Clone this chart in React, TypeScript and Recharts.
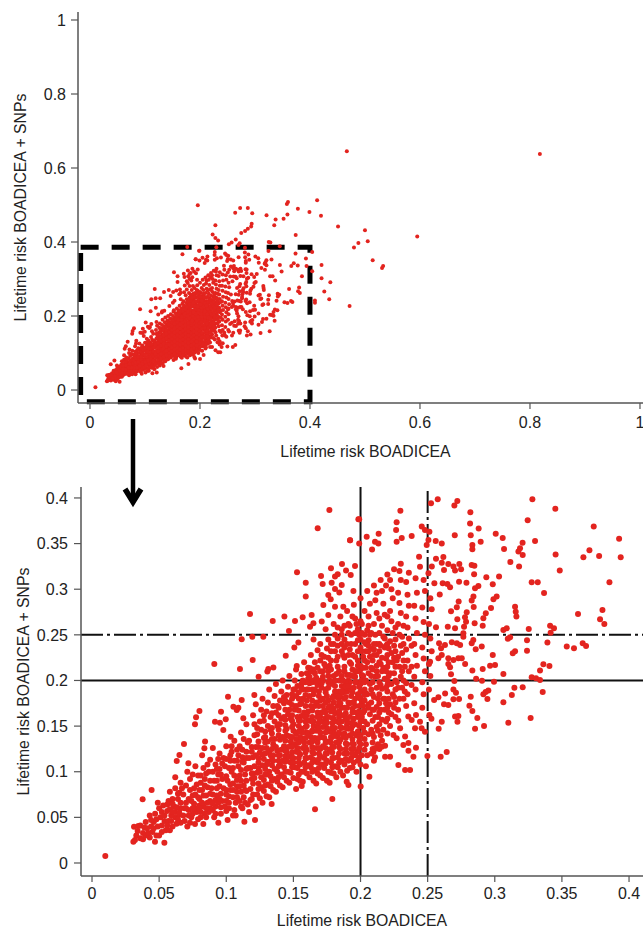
import { ScatterChart, Scatter, XAxis, YAxis, ReferenceLine, ReferenceArea } from 'recharts';

type Pt = [number, number];

// Values: [BOADICEA, BOADICEA + SNPs]
const farOutliers: Pt[] = [
  [.467,.645],[.818,.638],[.196,.499],[.36,.508],[.358,.503],[.413,.513],[.378,.49],[.264,.479],[.273,.492],[.287,.492],
  [.295,.478],[.399,.481],[.321,.472],[.3375,.461],[.352,.463],[.359,.474],[.42,.471],[.335,.445],[.294,.449],[.293,.442],
  [.287,.436],[.282,.43],[.228,.445],[.451,.442],[.5,.432],[.275,.424],[.265,.407],[.223,.42],[.228,.411],[.233,.404],
  [.374,.419],[.595,.415],[.505,.402],[.488,.397],[.48,.385],[.325,.4],[.404,.373],[.421,.338],[.514,.351],[.533,.335],
  [.531,.33],[.404,.321],[.421,.302],[.437,.291],[.426,.266],[.435,.245],[.409,.242],[.409,.236],[.472,.227],
];

const rightFringe: Pt[] = [
  [.2575,.3985],[.2525,.3941],[.2721,.3967],[.2699,.3916],[.328,.3985],[.3451,.3883],[.2818,.3843],[.2297,.3861],[.3245,.3755],[.199,.3766],
  [.2816,.3719],[.2269,.3733],[.3737,.3686],[.2456,.3686],[.248,.365],[.2513,.3631],[.2265,.3649],[.288,.3664],[.3007,.3609],[.2702,.3591],
  [.2821,.3591],[.2135,.3609],[.2046,.3576],[.2381,.3584],[.2307,.3562],[.2269,.3521],[.1922,.3536],[.199,.35],[.2108,.3521],[.2133,.35],
  [.2506,.354],[.2493,.3485],[.256,.3529],[.2605,.35],[.3059,.3562],[.2895,.3521],[.33,.3529],[.3926,.3554],[.3207,.351],[.2833,.3485],
  [.2833,.3437],[.3069,.3441],[.2086,.3434],[.3188,.3448],[.3176,.3412],[.3208,.3375],[.3453,.3379],[.3705,.3426],[.366,.335],[.3777,.3364],
  [.3938,.335],[.3116,.3299],[.3181,.3248],[.3484,.3204],[.2436,.3357],[.2443,.3247],[.2562,.3335],[.2617,.3353],[.2605,.3291],[.2654,.3277],
  [.2692,.3248],[.2704,.3204],[.2622,.3211],[.2736,.3277],[.2749,.3218],[.2531,.3248],[.2828,.3266],[.2848,.3258],[.2846,.3163],[.2506,.3175],
  [.2937,.3131],[.3032,.3138],[.255,.3065],[.2612,.3065],[.2647,.3058],[.2667,.3021],[.2734,.3083],[.2789,.3072],[.259,.2941],[.2985,.3054],
  [.3275,.3076],[.332,.3076],[.3854,.3076],[.3367,.2959],[.2878,.3035],[.2853,.301],[.2841,.2919],[.2828,.2875],[.3014,.2919],[.299,.289],
  [.2731,.2864],[.2717,.2802],[.2674,.2758],[.2843,.2805],[.2972,.2794],[.2933,.2736],[.3151,.2809],[.3156,.2754],[.3161,.27],[.2791,.2747],
  [.2778,.2692],[.2786,.2644],[.2771,.259],[.2766,.2517],[.2721,.267],[.2915,.2681],[.291,.2601],[.285,.2626],[.3802,.2773],[.3784,.267],
  [.3816,.2619],[.362,.2729],[.2704,.2572],[.265,.259],[.2562,.2583],[.3064,.2553],[.3089,.2572],[.3253,.2564],[.3412,.2601],[.3441,.2572],
  [.3416,.2524],[.3114,.2473],[.3097,.2458],[.324,.244],[.3392,.2415],[.3536,.2371],[.359,.2353],[.3655,.2407],[.368,.2378],[.284,.2444],
  [.2828,.2407],[.2903,.2371],[.2858,.2342],[.2717,.2407],[.268,.2418],[.2742,.2389],[.2766,.248],[.2585,.2407],[.2629,.2389],[.26,.2353],
  [.3151,.232],[.3134,.2298],[.324,.2327],[.2985,.2279],[.2729,.2243],[.2754,.2243],[.2692,.2225],[.2654,.2243],[.2605,.2279],[.258,.2243],
  [.2518,.2206],[.2779,.2181],[.2654,.2181],[.2667,.2144],[.3002,.217],[.2965,.2162],[.291,.2126],[.3362,.2177],[.3407,.2159],[.3337,.2108],
  [.3064,.2071],[.2833,.2108],[.2674,.2067],[.3275,.2035],[.3307,.2024],[.3337,.2005],[.2861,.202],[.2905,.1996],[.2699,.1993],[.2994,.1987],
  [.3146,.1921],[.3208,.1925],[.3357,.1874],[.3127,.1841],[.2692,.1902],[.2711,.1865],[.263,.1856],[.2952,.1889],[.2932,.1874],[.2915,.1848],
  [.2945,.1797],[.2821,.1823],[.3064,.1761],[.258,.1816],[.2548,.1787],[.2692,.1794],[.2734,.1797],[.2622,.1739],[.2654,.1732],[.2811,.1724],
  [.2833,.1666],[.2704,.1604],[.2729,.1611],[.2722,.1549],[.287,.1589],[.3267,.1589],[.3101,.1538],[.292,.1501],[.2853,.1472],[.2605,.1549],
  [.2582,.1472],[.2642,.1216],[.2597,.1165],[.2498,.1173],[.2369,.1019],[.2332,.1019],[.2282,.1074],[.222,.1165],[.2183,.1165],[.2394,.1165],
  [.2357,.1231],[.2413,.1264],[.2183,.1286],[.2158,.1275],[.2108,.1253],[.2096,.122],[.2108,.1158],[.2066,.0946],[.2001,.0837],[.191,.0855],
  [.1897,.0891],[.2357,.1315],[.2319,.1293],[.2245,.1403],[.2269,.1366],[.2332,.1385],[.2295,.1476],[.2406,.1476],[.2455,.1476],[.248,.1439],
  [.2443,.1549],[.2356,.1604],[.2381,.1567],[.2413,.1622],[.2282,.156],[.2513,.1622],[.2528,.158],
];

const upperLeftFringe: Pt[] = [
  [.0099,.0077],[.1768,.3868],[.1681,.3668],[.1984,.3766],[.1922,.3536],[.1527,.3185],[.1592,.3072],[.1592,.2919],[.1706,.3145],[.1718,.3057],
  [.178,.3229],[.1785,.3072],[.181,.3138],[.183,.3163],[.1862,.3277],[.1892,.3204],[.1927,.3156],[.1959,.3255],[.186,.3047],[.181,.3003],
  [.1842,.2963],[.1947,.2981],[.176,.2937],[.1778,.2889],[.1723,.2827],[.1177,.2729],[.1346,.2652],[.1433,.27],[.1512,.2652],[.1569,.2692],
  [.1636,.2718],[.1624,.259],[.1649,.2626],[.1711,.2645],[.176,.2718],[.181,.2809],[.1872,.2809],[.1467,.2542],[.1115,.2451],[.1194,.248],
  [.1276,.248],[.0911,.2181],[.1102,.2126],[.1197,.2225],[.1241,.2042],[.1443,.2272],[.1507,.236],[.1537,.2415],[.1525,.2159],[.1624,.2133],
  [.1306,.2097],[.1351,.2141],[.1313,.2126],[.1013,.1823],[.1209,.1841],[.08,.1666],[.0775,.1596],[.0767,.152],[.0961,.1658],[.1053,.1713],
  [.109,.1702],[.1115,.1786],[.1078,.1677],[.1127,.1585],[.0916,.1549],[.0953,.1538],[.0996,.1574],[.0978,.1458],[.1033,.1384],[.0842,.133],
  [.0837,.1257],[.0685,.1304],[.0651,.1184],[.0631,.1118],[.0718,.1092],[.0444,.08],[.0377,.0698],[.0313,.0398],[.0345,.0405],[.0308,.0234],
  [.032,.0252],[.0539,.0223],[.0469,.0234],[.1135,.0453],[.1214,.0471],[.0941,.0442],[.0829,.0427],[.0767,.0427],[.1661,.0588],[.179,.0701],
  [.1562,.0844],[.1338,.0647],
];

const lowTail: Pt[] = [
  [.033,.03],[.036,.027],[.038,.033],[.036,.041],[.041,.038],[.043,.028],[.045,.034],[.04,.045],[.046,.045],[.049,.04],
  [.05,.03],[.047,.054],[.051,.05],[.043,.052],[.05,.06],[.055,.036],[.054,.046],[.056,.057],[.053,.063],[.049,.066],
  [.057,.068],[.06,.04],[.062,.05],[.059,.052],[.061,.062],[.064,.07],[.058,.078],[.062,.082],[.066,.06],[.068,.052],
  [.066,.044],[.071,.04],[.07,.066],[.068,.075],[.066,.088],[.062,.094],[.07,.085],[.072,.058],[.074,.05],[.076,.065],
  [.075,.074],[.073,.092],[.071,.1],[.078,.086],[.078,.056],[.08,.07],[.081,.05],[.083,.062],[.082,.08],[.079,.096],
  [.084,.092],[.085,.074],[.077,.106],[.083,.104],[.087,.056],[.088,.068],[.089,.082],[.087,.1],[.088,.113],[.082,.118],
  [.091,.05],[.092,.062],[.093,.074],[.091,.09],[.094,.097],[.092,.108],[.095,.12],[.09,.126],[.096,.054],[.097,.068],
  [.098,.082],[.097,.092],[.099,.106],[.098,.115],[.1,.128],[.101,.047],[.102,.06],[.102,.073],[.103,.086],[.104,.1],
  [.103,.112],[.104,.122],[.106,.134],[.107,.052],[.107,.066],[.108,.078],[.108,.091],[.109,.106],[.109,.118],[.11,.128],
  [.111,.143],[.112,.06],[.113,.072],[.113,.085],[.114,.097],[.113,.11],[.115,.122],[.116,.132],[.115,.152],
  [.038,.026],[.04,.03],[.044,.04],[.048,.03],[.052,.041],[.057,.046],[.052,.056],[.058,.036],[.063,.043],[.065,.053],
  [.063,.061],[.06,.07],[.065,.077],[.069,.06],[.073,.044],[.074,.068],[.077,.075],[.079,.048],[.08,.063],[.081,.088],
  [.085,.05],[.086,.066],[.086,.083],[.09,.058],[.09,.075],[.094,.066],[.095,.084],[.095,.103],[.1,.057],[.1,.068],
  [.101,.09],[.106,.058],[.105,.072],[.106,.096],[.106,.112],[.11,.068],[.11,.096],[.112,.116],
  [.034,.035],[.039,.039],[.042,.033],[.046,.038],[.044,.047],[.048,.048],[.052,.034],[.054,.052],[.056,.041],[.059,.046],
  [.058,.059],[.056,.064],[.06,.065],[.064,.048],[.062,.056],[.066,.066],[.064,.076],[.067,.082],[.069,.046],[.072,.052],
  [.072,.07],[.073,.08],[.075,.054],[.077,.06],[.076,.082],[.075,.097],[.079,.072],[.08,.08],[.081,.056],[.082,.066],
  [.083,.074],[.084,.085],[.081,.096],[.085,.098],[.086,.108],[.084,.054],[.088,.06],[.088,.076],[.088,.09],[.09,.1],
  [.092,.054],[.092,.069],[.093,.082],[.093,.09],[.093,.103],[.094,.114],[.096,.061],[.096,.076],[.096,.097],[.097,.109],
  [.099,.062],[.1,.08],[.1,.095],[.1,.114],[.102,.066],[.103,.08],[.102,.104],[.103,.118],[.104,.128],[.105,.052],
  [.105,.087],[.105,.104],[.108,.072],[.108,.084],[.108,.112],[.108,.124],[.111,.062],[.111,.078],[.111,.09],[.111,.102],
  [.112,.111],[.112,.124],[.113,.136],[.114,.066],[.114,.08],[.115,.103],[.115,.115],
];

const midBand: Pt[] = [
  [.117,.056],[.118,.069],[.118,.081],[.119,.092],[.118,.104],[.12,.116],[.119,.127],[.121,.14],[.12,.162],[.122,.174],
  [.122,.062],[.123,.075],[.124,.087],[.123,.099],[.124,.11],[.125,.121],[.124,.133],[.126,.146],[.125,.155],[.127,.18],
  [.127,.066],[.128,.079],[.128,.091],[.129,.103],[.128,.114],[.13,.126],[.129,.138],[.131,.15],[.13,.166],[.132,.19],
  [.132,.072],[.133,.084],[.133,.095],[.134,.107],[.133,.118],[.135,.13],[.134,.142],[.136,.155],[.135,.172],[.137,.196],
  [.137,.078],[.138,.089],[.138,.1],[.139,.112],[.138,.123],[.14,.135],[.139,.146],[.141,.158],[.14,.178],[.142,.2],
  [.142,.083],[.143,.094],[.143,.105],[.144,.117],[.143,.128],[.145,.14],[.144,.151],[.146,.163],[.145,.184],[.147,.205],
  [.147,.088],[.148,.099],[.148,.11],[.149,.121],[.148,.133],[.15,.145],[.149,.156],[.151,.168],[.15,.19],[.152,.212],
  [.152,.081],[.153,.092],[.153,.104],[.154,.115],[.153,.126],[.155,.138],[.154,.15],[.156,.161],[.155,.174],[.156,.196],
  [.157,.089],[.158,.1],[.158,.11],[.159,.121],[.158,.132],[.16,.143],[.159,.155],[.161,.166],[.16,.178],[.161,.202],
  [.162,.094],[.163,.105],[.163,.116],[.164,.127],[.163,.138],[.165,.15],[.164,.16],[.166,.172],[.165,.185],[.166,.208],
  [.167,.087],[.168,.098],[.168,.11],[.169,.12],[.168,.132],[.17,.143],[.169,.154],[.171,.165],[.17,.178],[.171,.192],
  [.172,.093],[.173,.104],[.173,.115],[.174,.126],[.173,.137],[.175,.148],[.174,.159],[.176,.17],[.175,.183],[.176,.198],
  [.177,.088],[.178,.099],[.178,.11],[.179,.121],[.178,.132],[.18,.143],[.179,.153],[.181,.164],[.18,.176],[.181,.188],
  [.182,.094],[.183,.105],[.183,.116],[.184,.127],[.183,.138],[.185,.149],[.184,.16],[.186,.17],[.185,.182],[.186,.194],
  [.187,.096],[.188,.108],[.188,.12],[.189,.131],[.188,.142],[.19,.152],[.189,.164],[.191,.176],[.19,.188],[.191,.2],
  [.192,.104],[.193,.115],[.193,.125],[.194,.136],[.193,.147],[.195,.158],[.194,.169],[.196,.18],[.195,.192],[.196,.204],
  [.197,.1],[.198,.112],[.198,.122],[.199,.133],[.198,.144],[.2,.155],[.199,.166],[.201,.176],[.2,.188],[.201,.2],
];

const denseCore: Pt[] = [
  [.121,.152],[.126,.168],[.131,.176],[.136,.183],[.141,.188],[.146,.193],[.151,.2],[.156,.207],[.161,.214],[.166,.22],
  [.147,.176],[.152,.183],[.157,.19],[.162,.197],[.167,.203],[.172,.21],[.177,.216],[.182,.222],[.187,.228],[.192,.234],
  [.158,.22],[.163,.228],[.168,.233],[.173,.226],[.178,.232],[.183,.238],[.188,.245],[.193,.25],[.198,.256],[.176,.245],
  [.181,.25],[.186,.256],[.191,.262],[.196,.268],[.201,.262],[.206,.27],[.17,.24],[.165,.245],[.174,.256],[.18,.262],
  [.185,.27],[.19,.276],[.195,.283],[.2,.29],[.205,.298],[.21,.304],[.215,.31],[.22,.316],[.225,.322],[.23,.328],
  [.2,.212],[.204,.106],[.205,.118],[.204,.13],[.206,.141],[.205,.152],[.207,.163],[.206,.174],[.205,.185],[.207,.196],
  [.206,.208],[.205,.22],[.204,.232],[.206,.244],[.205,.255],[.203,.276],[.207,.284],[.21,.112],[.211,.126],[.21,.138],
  [.212,.149],[.211,.16],[.212,.171],[.21,.182],[.212,.192],[.211,.204],[.212,.216],[.21,.228],[.212,.24],[.211,.25],
  [.21,.262],[.212,.274],[.211,.288],[.212,.296],[.216,.134],[.217,.146],[.216,.157],[.218,.168],[.217,.18],[.216,.191],
  [.218,.202],[.217,.214],[.216,.225],[.218,.236],[.217,.248],[.216,.26],[.218,.272],[.217,.284],[.216,.298],[.219,.304],
  [.222,.15],[.223,.163],[.222,.174],[.224,.185],[.223,.196],[.222,.208],[.224,.22],[.223,.23],[.222,.243],[.224,.252],
  [.223,.265],[.222,.276],[.224,.29],[.223,.3],[.222,.31],[.228,.168],[.229,.18],[.228,.192],[.23,.204],[.229,.215],
  [.228,.226],[.23,.238],[.229,.25],[.228,.262],[.23,.274],[.229,.285],[.228,.296],[.23,.31],[.229,.32],[.234,.172],
  [.235,.185],[.234,.197],[.236,.21],[.235,.222],[.234,.234],[.236,.246],[.235,.258],[.234,.27],[.236,.282],[.235,.294],
  [.234,.308],[.236,.318],[.24,.175],[.241,.19],[.24,.204],[.242,.216],[.241,.228],[.24,.24],[.242,.252],[.241,.268],
  [.24,.282],[.242,.296],[.241,.312],[.246,.17],[.247,.185],[.246,.198],[.248,.21],[.247,.224],[.246,.236],[.248,.25],
  [.247,.264],[.246,.28],[.248,.298],[.247,.31],[.251,.19],[.252,.205],[.251,.218],[.253,.232],[.252,.246],[.251,.262],
  [.253,.278],[.252,.29],
  [.148,.128],[.152,.136],[.156,.147],[.16,.15],[.164,.145],[.168,.15],[.172,.155],[.176,.16],[.18,.158],[.184,.165],
  [.188,.17],[.192,.175],[.196,.172],[.2,.18],[.204,.186],[.208,.19],[.168,.165],[.172,.172],[.176,.178],[.18,.183],
  [.184,.188],[.188,.192],[.192,.198],[.196,.21],[.2,.216],[.204,.2],[.208,.205],[.212,.21],[.216,.21],[.22,.2],
  [.19,.206],[.194,.212],[.198,.222],[.202,.226],[.206,.232],[.21,.24],[.214,.24],[.218,.246],[.2,.236],[.196,.24],
  [.192,.22],[.188,.215],[.184,.21],[.18,.205],[.176,.205],[.172,.2],[.168,.195],[.164,.19],[.16,.19],[.156,.175],
  [.19,.155],[.186,.148],[.182,.14],[.178,.138],[.194,.15],[.198,.16],[.202,.165],[.206,.17],[.21,.168],[.214,.175],
  [.218,.18],[.2,.13],[.195,.125],[.19,.12],[.185,.125],[.18,.115],[.175,.12],[.17,.125],[.165,.12],[.16,.115],
  [.155,.108],[.15,.115],[.145,.122],[.14,.118],[.135,.112],[.13,.108],[.125,.1],[.12,.098],[.115,.09],[.11,.084],
  [.105,.08],[.1,.075],[.095,.07],[.09,.065],[.085,.06],[.08,.06],[.075,.06],[.07,.06],[.065,.055],[.06,.056],
];

const coreInfill: Pt[] = [
  [.116,.064],[.12,.075],[.115,.079],[.12,.087],[.116,.104],[.121,.106],[.117,.115],[.122,.127],[.117,.134],[.123,.141],
  [.125,.071],[.126,.083],[.121,.093],[.126,.094],[.127,.107],[.122,.118],[.127,.126],[.128,.137],[.123,.148],[.128,.156],
  [.13,.073],[.131,.086],[.13,.097],[.132,.1],[.131,.111],[.127,.119],[.132,.122],[.131,.133],[.133,.146],[.128,.162],
  [.135,.08],[.136,.092],[.136,.103],[.135,.118],[.137,.127],[.136,.136],[.138,.15],[.133,.16],[.137,.165],[.14,.085],
  [.141,.097],[.14,.108],[.142,.112],[.141,.124],[.142,.138],[.14,.152],[.143,.16],[.138,.172],[.143,.175],[.145,.09],
  [.146,.1],[.145,.112],[.147,.117],[.146,.127],[.147,.139],[.145,.147],[.148,.158],[.147,.168],[.143,.182],[.149,.18],
  [.15,.093],[.151,.105],[.15,.11],[.152,.122],[.151,.13],[.152,.142],[.15,.152],[.153,.16],[.152,.172],[.154,.187],
  [.155,.09],[.156,.1],[.155,.119],[.157,.126],[.156,.135],[.157,.143],[.155,.156],[.158,.165],[.157,.18],[.153,.194],
  [.16,.098],[.161,.107],[.16,.124],[.162,.132],[.161,.142],[.162,.156],[.16,.162],[.163,.172],[.162,.183],[.159,.198],
  [.165,.09],[.166,.102],[.165,.113],[.167,.126],[.166,.137],[.167,.145],[.165,.155],[.168,.16],[.167,.176],[.164,.198],
  [.17,.096],[.171,.108],[.17,.117],[.172,.128],[.171,.138],[.172,.149],[.17,.16],[.173,.167],[.172,.18],[.169,.188],
  [.175,.09],[.176,.1],[.175,.112],[.177,.124],[.176,.133],[.177,.144],[.175,.154],[.178,.166],[.177,.172],[.174,.19],
  [.18,.098],[.181,.106],[.18,.127],[.182,.132],[.181,.148],[.182,.155],[.18,.168],[.183,.172],[.182,.182],[.179,.196],
  [.185,.1],[.186,.112],[.185,.135],[.187,.14],[.186,.155],[.187,.162],[.185,.175],[.188,.18],[.187,.187],[.184,.2],
  [.19,.101],[.191,.112],[.19,.13],[.192,.14],[.191,.147],[.192,.16],[.19,.17],[.193,.183],[.192,.192],[.189,.198],
  [.195,.11],[.196,.118],[.195,.13],[.197,.14],[.196,.152],[.197,.165],[.195,.176],[.198,.185],[.197,.198],[.194,.205],
  [.2,.108],[.201,.118],[.2,.14],[.202,.148],[.201,.16],[.202,.172],[.2,.196],[.203,.19],[.202,.205],[.198,.21],
  [.208,.12],[.209,.132],[.208,.146],[.209,.156],[.208,.176],[.209,.198],[.208,.214],[.209,.222],[.208,.235],[.208,.252],
  [.204,.24],[.203,.25],[.2,.245],[.199,.25],[.2,.265],[.197,.262],[.194,.27],[.192,.26],[.188,.26],[.183,.258],
  [.186,.24],[.19,.24],[.194,.228],[.198,.232],[.204,.214],[.188,.225],[.183,.215],[.178,.222],[.174,.215],[.17,.222],
  [.175,.235],[.18,.24],[.17,.21],[.165,.212],[.16,.208],[.165,.2],[.17,.2],[.176,.21],[.181,.2],[.186,.205],
  [.214,.125],[.215,.14],[.214,.152],[.214,.165],[.214,.185],[.214,.198],[.214,.22],[.214,.232],[.214,.252],[.214,.268],
  [.22,.142],[.22,.158],[.22,.17],[.22,.188],[.22,.195],[.22,.215],[.22,.228],[.22,.24],[.22,.255],[.22,.27],
  [.226,.16],[.226,.176],[.226,.19],[.226,.2],[.226,.215],[.226,.232],[.226,.245],[.226,.258],[.232,.18],[.232,.2],
  [.232,.222],[.232,.24],[.232,.26],[.238,.195],[.238,.215],[.238,.238],
];

const solidCentre: Pt[] = [
  [.119,.07],[.124,.081],[.129,.085],[.134,.09],[.139,.094],[.144,.1],[.149,.105],[.154,.097],[.159,.105],[.164,.1],
  [.169,.104],[.174,.109],[.179,.105],[.184,.11],[.189,.114],[.194,.105],[.199,.116],[.203,.124],[.119,.098],[.124,.104],
  [.129,.097],[.134,.113],[.139,.106],[.144,.111],[.149,.115],[.154,.11],[.159,.115],[.164,.11],[.169,.114],[.174,.12],
  [.179,.115],[.184,.12],[.189,.125],[.194,.12],[.199,.126],[.203,.136],[.119,.122],[.124,.115],[.129,.12],[.134,.125],
  [.139,.118],[.144,.123],[.149,.127],[.154,.121],[.159,.127],[.164,.122],[.169,.126],[.174,.132],[.179,.127],[.184,.132],
  [.189,.137],[.194,.131],[.199,.138],[.203,.143],[.124,.127],[.129,.132],[.134,.136],[.139,.14],[.144,.134],[.149,.138],
  [.154,.132],[.159,.137],[.164,.133],[.169,.137],[.174,.143],[.179,.138],[.184,.143],[.189,.148],[.194,.142],[.199,.15],
  [.203,.155],[.129,.144],[.134,.148],[.139,.152],[.144,.145],[.149,.149],[.154,.144],[.159,.149],[.164,.144],[.169,.148],
  [.174,.153],[.179,.148],[.184,.154],[.189,.158],[.194,.154],[.199,.161],[.203,.167],[.134,.164],[.139,.162],[.144,.157],
  [.149,.162],[.154,.156],[.159,.16],[.164,.155],[.169,.16],[.174,.165],[.179,.159],[.184,.166],[.189,.17],[.194,.165],
  [.199,.172],[.203,.178],[.139,.17],[.144,.168],[.149,.173],[.154,.167],[.159,.172],[.164,.167],[.169,.172],[.174,.176],
  [.179,.17],[.184,.177],[.189,.182],[.194,.176],[.199,.182],[.203,.184],[.144,.178],[.149,.185],[.154,.18],[.159,.184],
  [.164,.178],[.169,.183],[.174,.187],[.179,.181],[.184,.183],[.189,.193],[.194,.187],[.199,.193],[.203,.198],[.151,.19],
  [.156,.192],[.161,.19],[.166,.19],[.171,.197],[.176,.192],[.181,.194],[.186,.188],[.191,.194],[.196,.198],[.201,.206],
  [.157,.2],[.162,.204],[.167,.198],[.172,.204],[.177,.2],[.182,.207],[.187,.2],[.192,.206],[.197,.21],[.202,.214],
  [.163,.21],[.168,.214],[.173,.218],[.178,.212],[.183,.226],[.188,.21],[.193,.218],[.198,.216],[.203,.222],[.207,.226],
  [.171,.228],[.176,.225],[.181,.232],[.186,.232],[.191,.228],[.196,.226],[.201,.232],[.206,.238],[.21,.234],[.178,.24],
  [.183,.246],[.188,.236],[.193,.24],[.198,.244],[.203,.242],[.207,.25],[.212,.228],[.186,.25],[.191,.252],[.196,.252],
  [.201,.252],[.206,.26],[.209,.212],[.209,.185],[.209,.168],[.209,.142],[.209,.125],[.213,.16],[.213,.145],[.213,.13],
  [.213,.18],[.213,.205],[.215,.168],[.215,.195],[.215,.218],[.215,.238],[.219,.155],[.219,.175],[.219,.192],[.219,.21],
  [.219,.224],[.219,.238],[.221,.18],[.221,.165],[.221,.205],[.221,.22],[.221,.235],[.225,.17],[.225,.182],[.225,.208],
  [.225,.225],[.225,.238],[.227,.198],[.227,.222],[.231,.192],[.231,.21],[.231,.23],[.231,.248],[.233,.188],[.233,.215],
];

const zoomedPoints: Pt[] = [...lowTail, ...midBand, ...denseCore, ...coreInfill, ...solidCentre, ...upperLeftFringe, ...rightFringe];
const allPoints: Pt[] = [...zoomedPoints, ...farOutliers];

const overviewTicks = [0, 0.2, 0.4, 0.6, 0.8, 1];
const zoomYTicks = [0, 0.05, 0.1, 0.15, 0.2, 0.25, 0.3, 0.35, 0.4];
const zoomXTicks = [0, 0.05, 0.1, 0.15, 0.2, 0.25, 0.3, 0.35, 0.4];

const toRows = (pts: Pt[]) => pts.map(([x, y]) => ({ x, y }));

const AXIS = '#555';
const RED = '#e3241f';
const tickStyle = { fontSize: 16, fill: '#222', fontFamily: 'Liberation Sans' };
const labelStyle = { fontSize: 15.8, fill: '#222', fontFamily: 'Liberation Sans' };
const axisLine = { stroke: AXIS, strokeWidth: 1.5 };
const tickLine = { stroke: AXIS, strokeWidth: 1.2 };

const dot = (r: number) => (p: any) => <circle cx={p.cx} cy={p.cy} r={r} fill={RED} />;

function Overview() {
  return (
    <ScatterChart width={643} height={470} margin={{ top: 12, right: 0, bottom: 0, left: 0 }}>
      <XAxis type="number" dataKey="x" domain={[-0.0218, 1.0055]} ticks={overviewTicks} height={67} interval={0}
        tickFormatter={String} tick={tickStyle} axisLine={axisLine} tickLine={tickLine} tickSize={6} tickMargin={8} allowDataOverflow
        label={{ value: 'Lifetime risk BOADICEA', position: 'insideBottom', offset: 13, dx: 5, style: labelStyle }} />
      <YAxis type="number" dataKey="y" domain={[-0.0351, 1.0216]} ticks={overviewTicks} width={78} interval={0}
        tickFormatter={String} tick={tickStyle} axisLine={axisLine} tickLine={tickLine} tickSize={7} tickMargin={5} allowDataOverflow
        label={{ value: 'Lifetime risk BOADICEA + SNPs', angle: -90, position: 'insideLeft', offset: 20, style: { ...labelStyle, textAnchor: 'middle' } }} />
      <Scatter data={toRows(allPoints)} fill={RED} isAnimationActive={false} shape={dot(2)} />
      <ReferenceArea x1={-0.017} x2={0.4} y1={-0.0316} y2={0.386} fill="none" fillOpacity={0}
        stroke="#000" strokeWidth={5} strokeDasharray="18 13" />
    </ScatterChart>
  );
}

function Zoomed() {
  return (
    <ScatterChart width={643} height={459} margin={{ top: 17, right: 0, bottom: 0, left: 0 }}>
      <XAxis type="number" dataKey="x" domain={[-0.0082, 0.4104]} ticks={zoomXTicks} height={53} interval={0}
        tickFormatter={String} tick={tickStyle} axisLine={axisLine} tickLine={tickLine} tickSize={6} tickMargin={6} allowDataOverflow
        label={{ value: 'Lifetime risk BOADICEA', position: 'insideBottom', offset: 3, style: labelStyle }} />
      <YAxis type="number" dataKey="y" domain={[-0.01425, 0.412]} ticks={zoomYTicks} width={81} interval={0}
        tickFormatter={String} tick={tickStyle} axisLine={axisLine} tickLine={tickLine} tickSize={7} tickMargin={6} allowDataOverflow
        label={{ value: 'Lifetime risk BOADICEA + SNPs', angle: -90, position: 'insideLeft', offset: 23, style: { ...labelStyle, textAnchor: 'middle' } }} />
      <ReferenceLine y={0.2} stroke="#111" strokeWidth={2} />
      <ReferenceLine x={0.2} stroke="#111" strokeWidth={2} />
      <ReferenceLine y={0.25} stroke="#111" strokeWidth={2} strokeDasharray="22 4 3 4" />
      <ReferenceLine x={0.25} stroke="#111" strokeWidth={2} strokeDasharray="22 4 3 4" />
      <Scatter data={toRows(zoomedPoints)} fill={RED} isAnimationActive={false} shape={dot(3)} />
    </ScatterChart>
  );
}

export default function App() {
  return (
    <div style={{ position: 'absolute', left: 0, top: 0, width: 643, height: 929, background: '#fff', overflow: 'hidden' }}>
      <div style={{ position: 'absolute', left: 0, top: 0 }}><Overview /></div>
      <div style={{ position: 'absolute', left: 0, top: 470 }}><Zoomed /></div>
      {/* arrow between the two panels */}
      <svg width={643} height={929} style={{ position: 'absolute', left: 0, top: 0, pointerEvents: 'none' }}>
        <line x1={133} y1={419} x2={133} y2={500} stroke="#000" strokeWidth={4.5} />
        <polyline points="125,489 133,502 141,489" fill="none" stroke="#000" strokeWidth={5.5} />
      </svg>
    </div>
  );
}
